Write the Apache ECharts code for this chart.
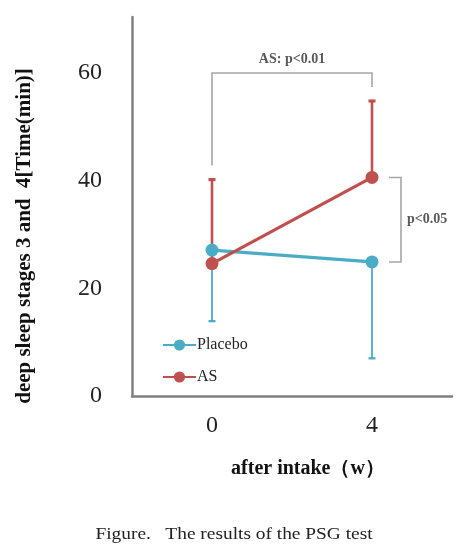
<!DOCTYPE html>
<html lang="en">
<head>
    <meta charset="UTF-8">
    <title>PSG test</title>
    <script type="text/javascript" src="https://cdn.jsdelivr.net/npm/echarts@6/dist/echarts.min.js"></script>
    <style>
        html, body { margin: 0; padding: 0; background: #fff; }
    </style>
</head>
<body>
<div id="psg" style="width: 470px;height: 546px"></div>
<script type="text/javascript">
    // data
    var weeks = ['0', '4'];
    var placeboMean = [27.1, 24.9];
    var placeboLow = [13.9, 7.0];     // lower error bar ends
    var asMean = [24.6, 40.6];
    var asHigh = [40.2, 54.8];        // upper error bar ends
    var yTicks = [0, 20, 40, 60];
    var sigTopLevel = 60.0;           // AS: p<0.01 bracket height

    var blue = '#4bacc6';
    var red = '#c0504d';
    var serif = '"Liberation Serif", "Times New Roman", serif';

    var chartDom = document.getElementById('psg');
    var myChart = echarts.init(chartDom);

    function errData(mean, end) {
        var out = [];
        for (var i = 0; i < mean.length; i++) {
            out.push([i, mean[i], end[i]]);
        }
        return out;
    }

    function errRender(color, width) {
        return function (params, api) {
            var a = api.coord([api.value(0), api.value(1)]);
            var b = api.coord([api.value(0), api.value(2)]);
            return {
                type: 'group',
                children: [
                    { type: 'line', shape: { x1: a[0], y1: a[1], x2: b[0], y2: b[1] },
                      style: { stroke: color, lineWidth: width } },
                    { type: 'line', shape: { x1: b[0] - 3.5, y1: b[1], x2: b[0] + 3.5, y2: b[1] },
                      style: { stroke: color, lineWidth: width + 0.5 } }
                ]
            };
        };
    }

    // significance brackets
    function bracketRender(params, api) {
        var gray = '#a6a6a6';
        var txt = '#595959';
        var left = api.coord([0, asHigh[0]]);
        var right = api.coord([1, asHigh[1]]);
        var top = api.coord([0, sigTopLevel])[1];
        var upper = api.coord([1, asMean[1]]);
        var lower = api.coord([1, placeboMean[1]]);
        var bx = upper[0] + 29;
        return {
            type: 'group',
            children: [
                { type: 'polyline',
                  shape: { points: [[left[0], left[1] - 14], [left[0], top], [right[0], top], [right[0], right[1] - 14]] },
                  style: { stroke: gray, lineWidth: 1.6, fill: null } },
                { type: 'text',
                  style: { x: (left[0] + right[0]) / 2, y: top - 14, text: 'AS: p<0.01', fill: txt,
                           font: 'bold 14px ' + serif, align: 'center', verticalAlign: 'middle' } },
                { type: 'polyline',
                  shape: { points: [[bx - 12, upper[1]], [bx, upper[1]], [bx, lower[1]], [bx - 12, lower[1]]] },
                  style: { stroke: gray, lineWidth: 1.6, fill: null } },
                { type: 'text',
                  style: { x: bx + 6, y: (upper[1] + lower[1]) / 2, text: 'p<0.05', fill: txt,
                           font: 'bold 14px ' + serif, align: 'left', verticalAlign: 'middle' } }
            ]
        };
    }

    var option = {
        animation: false,
        grid: { left: 132, right: 18, top: 17, bottom: 150 },
        legend: {
            orient: 'vertical',
            left: 162,
            top: 337,
            padding: 0,
            itemWidth: 33,
            itemHeight: 14,
            itemGap: 16,
            data: ['Placebo', 'AS'],
            textStyle: { fontFamily: serif, fontSize: 16, color: '#222', padding: [0, 0, 0, -4] }
        },
        xAxis: {
            type: 'category',
            data: weeks,
            boundaryGap: true,
            axisLine: { lineStyle: { color: '#808080', width: 2.5 } },
            axisTick: { show: false },
            axisLabel: { fontFamily: serif, fontSize: 24, color: '#222', margin: 18 },
            name: 'after intake（w）',
            nameLocation: 'middle',
            nameGap: 63,
            nameTextStyle: { fontFamily: serif, fontSize: 20, fontWeight: 'bold', color: '#111', padding: [0, 0, 0, 32] }
        },
        yAxis: {
            type: 'value',
            min: 0,
            max: 70.4,
            interval: 20,
            axisLine: { show: true, lineStyle: { color: '#808080', width: 2.5 } },
            axisTick: { show: false },
            splitLine: { show: false },
            axisLabel: {
                fontFamily: serif, fontSize: 24, color: '#222', margin: 30, showMaxLabel: false,
                formatter: function (v) { return yTicks.indexOf(v) >= 0 ? String(v) : ''; }
            }
        },
        graphic: [
            { type: 'text', x: 25, y: 236, rotation: Math.PI / 2,
              style: { text: 'deep sleep stages 3 and  4[Time(min)]', font: 'bold 21px ' + serif,
                       fill: '#111', align: 'center', verticalAlign: 'middle' } },
            { type: 'text', x: 234, y: 535, scaleX: 1.14,
              style: { text: 'Figure.   The results of the PSG test', font: '17px ' + serif,
                       fill: '#222', align: 'center', verticalAlign: 'middle' } }
        ],
        series: [
            { name: 'PlaceboErr', type: 'custom', z: 1, silent: true,
              renderItem: errRender(blue, 1.8), data: errData(placeboMean, placeboLow) },
            { name: 'ASErr', type: 'custom', z: 1, silent: true,
              renderItem: errRender(red, 2.6), data: errData(asMean, asHigh) },
            { name: 'Placebo', type: 'line', z: 3, data: placeboMean,
              symbol: 'circle', symbolSize: 13,
              itemStyle: { color: blue }, lineStyle: { color: blue, width: 3.2 } },
            { name: 'AS', type: 'line', z: 4, data: asMean,
              symbol: 'circle', symbolSize: 13,
              itemStyle: { color: red }, lineStyle: { color: red, width: 3.2 } },
            { name: 'brackets', type: 'custom', z: 2, silent: true,
              renderItem: bracketRender, data: [[0]] }
        ]
    };

    option && myChart.setOption(option);
</script>
</body>
</html>
